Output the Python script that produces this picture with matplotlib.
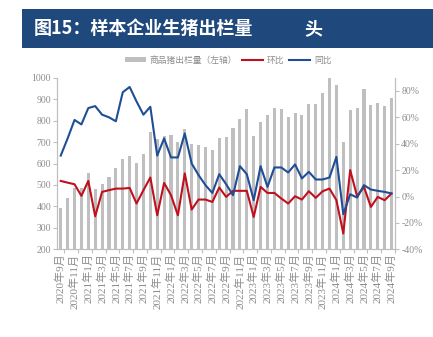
import numpy as np
import pandas as pd
import matplotlib
matplotlib.use("Agg")
import matplotlib.pyplot as plt
from matplotlib.patches import Rectangle

plt.rcParams["font.family"] = ["Liberation Serif", "Noto Sans CJK SC"]

# monthly series, 2020-09 .. 2024-09
months = pd.period_range("2020-09", "2024-09", freq="M")
month_labels = [f"{p.year}年{p.month}月" for p in months]

volume = [394, 438, 484, 487, 557, 481, 504, 535, 577, 620, 635, 604, 645,
          748, 712, 728, 735, 700, 760, 692, 686, 678, 662, 718, 722, 764,
          806, 856, 727, 795, 825, 857, 854, 818, 834, 826, 876, 877, 927,
          997, 966, 699, 849, 860, 946, 873, 884, 870, 904]

mom = [11.8, 10.5, 9.3, 0.5, 11.8, -15.0, 3.5, 4.8, 6.0, 6.0, 6.5, -5.3, 4.8,
       14.4, -14.2, 10.3, 1.0, -14.2, 17.5, -9.9, -2.3, -2.3, -4.1, 6.8, -0.3,
       4.3, 4.3, 4.3, -15.5, 7.3, 2.7, 2.7, -1.5, -5.3, 0.2, -2.3, 4.0, -1.0,
       4.0, 6.0, -2.8, -28.0, 20.0, 0.2, 7.3, -7.9, -0.3, -2.8, 2.3]

yoy = [31.0, 44.0, 58.0, 54.6, 67.0, 68.5, 62.0, 60.0, 57.0, 79.0, 83.0, 72.0,
       62.0, 68.0, 31.0, 44.0, 29.6, 29.6, 47.8, 25.0, 16.2, 8.6, 2.7, 16.9,
       9.3, 1.0, 23.0, 16.9, -2.8, 23.0, 7.3, 22.0, 22.0, 18.2, 24.3, 13.7,
       18.7, 12.9, 12.9, 14.4, 30.0, -13.4, 1.7, -0.8, 8.6, 5.3, 4.3, 3.5, 2.3]

GRAY_TXT = "#8c8c8c"
AXIS_CLR = "#bfbfbf"

fig = plt.figure(figsize=(4.33, 3.37), dpi=100)

# title band
fig.patches.append(Rectangle((0.051, 0.857), 0.949, 0.115, transform=fig.transFigure,
                             facecolor="#1f497d", edgecolor="none", zorder=0))
fig.text(0.077, 0.915, "图15：样本企业生猪出栏量", color="white", fontsize=13,
         fontweight="bold", family=["Noto Sans CJK SC"], va="center", ha="left")
fig.text(0.703, 0.915, "头", color="white", fontsize=13, fontweight="bold",
         family=["Noto Sans CJK SC"], va="center", ha="left")

ax = fig.add_axes([0.1323, 0.2602, 0.7799, 0.5092])
x = np.arange(len(volume))
bars = ax.bar(x, volume, width=0.45, color="#bfbfbf", zorder=1,
              label="商品猪出栏量（左轴）")
ax.set_xlim(-0.5, 48.3)
ax.set_ylim(200, 1000)
ax.set_yticks(np.arange(200, 1001, 100))

ax2 = ax.twinx()
l1, = ax2.plot(x, np.array(mom) / 100, color="#c0101e", lw=1.5, label="环比")
l2, = ax2.plot(x, np.array(yoy) / 100, color="#1f4e96", lw=1.5, label="同比")
ax2.set_ylim(-0.4, 0.9)
ax2.set_yticks(np.arange(-0.4, 0.81, 0.2))
ax2.set_yticklabels([f"{v}%" for v in range(-40, 81, 20)])

for a in (ax, ax2):
    for s in ("top",):
        a.spines[s].set_visible(False)
    for s in ("left", "right", "bottom"):
        a.spines[s].set_color(AXIS_CLR)
        a.spines[s].set_linewidth(0.8)
    a.tick_params(axis="y", colors=AXIS_CLR, labelcolor=GRAY_TXT, labelsize=7,
                  length=3, width=0.8, pad=1.5)

ax.set_xticks(x[::2])
ax.set_xticklabels(month_labels[::2], rotation=90, fontsize=8, color=GRAY_TXT,
                   va="top", ha="center")
ax.tick_params(axis="x", length=0, pad=3)
ax.set_xticks(x[::2] + 0.5, minor=True)
ax.tick_params(axis="x", which="minor", length=3, width=0.8, color=AXIS_CLR)

fig.legend([bars, l1, l2], ["商品猪出栏量（左轴）", "环比", "同比"],
           loc="center", bbox_to_anchor=(0.527, 0.822), ncol=3, frameon=False,
           fontsize=6.3, handlelength=2.4, handleheight=0.6, columnspacing=0.6,
           handletextpad=0.4, labelcolor=GRAY_TXT,
           prop={"family": ["Noto Sans CJK SC"], "size": 6.3})

fig.savefig("out.png", dpi=100)
plt.close(fig)
